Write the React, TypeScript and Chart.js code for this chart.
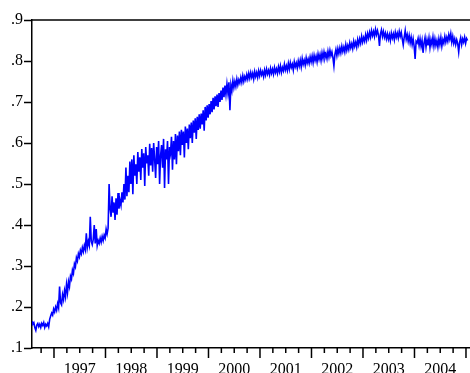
import React, { useEffect, useRef } from 'react';
import { Chart, registerables } from 'chart.js';

Chart.register(...registerables);

// Weekly readings of the series, starting mid-1996
const START_YEAR = 1996.57;
const STEP_YEARS = 1 / 52;
const seriesValues: number[] = [
  0.166, 0.158, 0.162, 0.150, 0.143, 0.156, 0.160, 0.152, 0.158, 0.150,
  0.160, 0.155, 0.162, 0.150, 0.158, 0.154, 0.160, 0.152, 0.170, 0.178,
  0.185, 0.180, 0.195, 0.188, 0.200, 0.192, 0.208, 0.198, 0.250, 0.210,
  0.205, 0.230, 0.218, 0.240, 0.225, 0.255, 0.235, 0.262, 0.250, 0.275,
  0.268, 0.290, 0.282, 0.305, 0.298, 0.320, 0.312, 0.330, 0.322, 0.338,
  0.330, 0.345, 0.335, 0.350, 0.340, 0.380, 0.345, 0.360, 0.350, 0.420,
  0.360, 0.352, 0.365, 0.400, 0.355, 0.390, 0.350, 0.362, 0.355, 0.368,
  0.358, 0.372, 0.362, 0.375, 0.368, 0.390, 0.378, 0.392, 0.500, 0.440,
  0.420, 0.470, 0.430, 0.455, 0.412, 0.465, 0.425, 0.478, 0.440, 0.460,
  0.448, 0.480, 0.455, 0.500, 0.462, 0.540, 0.470, 0.520, 0.480, 0.555,
  0.500, 0.560, 0.475, 0.570, 0.520, 0.548, 0.500, 0.578, 0.530, 0.565,
  0.510, 0.585, 0.540, 0.575, 0.495, 0.590, 0.550, 0.570, 0.520, 0.598,
  0.545, 0.588, 0.530, 0.600, 0.560, 0.515, 0.590, 0.548, 0.605, 0.500,
  0.570, 0.595, 0.540, 0.610, 0.490, 0.585, 0.560, 0.605, 0.500, 0.590,
  0.575, 0.615, 0.535, 0.605, 0.560, 0.622, 0.548, 0.618, 0.580, 0.628,
  0.570, 0.632, 0.595, 0.628, 0.565, 0.640, 0.600, 0.635, 0.585, 0.645,
  0.612, 0.650, 0.600, 0.655, 0.625, 0.660, 0.610, 0.664, 0.632, 0.670,
  0.635, 0.672, 0.645, 0.680, 0.630, 0.688, 0.655, 0.692, 0.662, 0.695,
  0.670, 0.702, 0.675, 0.710, 0.682, 0.714, 0.690, 0.718, 0.688, 0.722,
  0.700, 0.728, 0.705, 0.735, 0.712, 0.740, 0.718, 0.744, 0.722, 0.748,
  0.680, 0.742, 0.728, 0.752, 0.735, 0.750, 0.738, 0.756, 0.742, 0.754,
  0.746, 0.760, 0.748, 0.764, 0.750, 0.762, 0.754, 0.767, 0.756, 0.770,
  0.758, 0.772, 0.760, 0.770, 0.756, 0.774, 0.762, 0.772, 0.760, 0.776,
  0.764, 0.777, 0.766, 0.774, 0.762, 0.778, 0.766, 0.780, 0.768, 0.777,
  0.766, 0.782, 0.770, 0.780, 0.768, 0.784, 0.772, 0.781, 0.770, 0.786,
  0.774, 0.788, 0.772, 0.784, 0.776, 0.792, 0.778, 0.788, 0.777, 0.794,
  0.780, 0.796, 0.784, 0.792, 0.778, 0.798, 0.786, 0.795, 0.783, 0.800,
  0.788, 0.802, 0.786, 0.806, 0.792, 0.802, 0.790, 0.808, 0.795, 0.805,
  0.794, 0.810, 0.798, 0.812, 0.796, 0.814, 0.801, 0.812, 0.798, 0.817,
  0.804, 0.816, 0.801, 0.820, 0.806, 0.822, 0.808, 0.818, 0.806, 0.824,
  0.810, 0.826, 0.813, 0.822, 0.808, 0.788, 0.816, 0.828, 0.813, 0.830,
  0.818, 0.832, 0.820, 0.836, 0.823, 0.834, 0.822, 0.840, 0.826, 0.838,
  0.828, 0.844, 0.832, 0.842, 0.830, 0.848, 0.836, 0.846, 0.834, 0.852,
  0.840, 0.854, 0.843, 0.860, 0.846, 0.857, 0.848, 0.864, 0.851, 0.867,
  0.856, 0.870, 0.858, 0.874, 0.862, 0.872, 0.860, 0.877, 0.864, 0.874,
  0.863, 0.837, 0.866, 0.876, 0.860, 0.872, 0.858, 0.868, 0.854, 0.866,
  0.853, 0.864, 0.850, 0.868, 0.856, 0.866, 0.852, 0.870, 0.858, 0.868,
  0.856, 0.872, 0.860, 0.870, 0.854, 0.839, 0.858, 0.874, 0.853, 0.864,
  0.848, 0.862, 0.844, 0.858, 0.840, 0.854, 0.836, 0.805, 0.848, 0.844,
  0.855, 0.838, 0.854, 0.836, 0.850, 0.820, 0.844, 0.857, 0.834, 0.852,
  0.838, 0.856, 0.833, 0.852, 0.840, 0.858, 0.836, 0.854, 0.838, 0.850,
  0.834, 0.854, 0.840, 0.857, 0.836, 0.852, 0.843, 0.860, 0.846, 0.858,
  0.848, 0.864, 0.853, 0.867, 0.846, 0.860, 0.843, 0.854, 0.840, 0.852,
  0.843, 0.822, 0.846, 0.857, 0.840, 0.854, 0.846, 0.858, 0.843, 0.855, 0.850,
];

const years: number[] = [1997, 1998, 1999, 2000, 2001, 2002, 2003, 2004];
const X_MIN = 1996.573;
const X_MAX = 2005.078;
const Y_MIN = 0.1;
const Y_MAX = 0.9;
const Y_STEP = 0.1;

const FONT = "'Liberation Serif', 'Times New Roman', serif";

const framePlugin = {
  id: 'eviewsFrame',
  afterDraw(chart: any) {
    const { ctx, chartArea: a, scales } = chart;
    const xs = scales.x;
    ctx.save();
    ctx.strokeStyle = '#000';
    ctx.lineWidth = 1.5;
    ctx.beginPath();
    ctx.moveTo(a.left, a.top);
    ctx.lineTo(a.right, a.top);
    ctx.stroke();
    xs.ticks.forEach((t: any) => {
      const px = xs.getPixelForValue(t.value);
      const major = Math.abs(t.value - Math.round(t.value)) < 1e-6;
      ctx.beginPath();
      ctx.moveTo(px, a.bottom);
      ctx.lineTo(px, a.bottom + (major ? 10 : 5));
      ctx.stroke();
    });
    ctx.restore();
  },
};

export default function App() {
  const ref = useRef<HTMLCanvasElement | null>(null);

  useEffect(() => {
    if (!ref.current) return;
    const points = seriesValues.map((v, i) => ({ x: START_YEAR + i * STEP_YEARS, y: v }));
    const quarterTicks: number[] = [];
    const firstYear = years[0] - 1;
    const lastYear = years[years.length - 1] + 1;
    for (let y = firstYear; y <= lastYear; y++) {
      for (let q = 0; q < 4; q++) {
        const v = y + q * 0.25;
        if (v >= X_MIN && v <= X_MAX) quarterTicks.push(v);
      }
    }
    const chart = new Chart(ref.current, {
      type: 'line',
      data: {
        datasets: [
          {
            data: points,
            borderColor: '#0000FF',
            borderWidth: 1.6,
            pointRadius: 0,
            tension: 0,
            fill: false,
          },
        ],
      },
      plugins: [framePlugin],
      options: {
        responsive: false,
        animation: false,
        events: [],
        layout: { padding: { top: 20, right: 0, left: 0, bottom: 0 } },
        plugins: { legend: { display: false }, tooltip: { enabled: false } },
        scales: {
          x: {
            type: 'linear',
            min: X_MIN,
            max: X_MAX,
            afterFit: (s: any) => {
              s.height = 25;
              s.paddingLeft = 0;
              s.paddingRight = 0;
            },
            afterBuildTicks: (s: any) => {
              s.ticks = quarterTicks.map((v) => ({ value: v }));
            },
            grid: { display: false, drawTicks: false },
            border: { display: true, color: '#000', width: 1.5 },
            ticks: {
              autoSkip: false,
              maxRotation: 0,
              minRotation: 0,
              padding: 12,
              color: '#000',
              font: { family: FONT, size: 16 },
              callback: (value: any) => {
                const v = Number(value);
                const yr = Math.floor(v);
                return Math.abs(v - yr - 0.5) < 1e-6 && years.includes(yr) ? String(yr) : '';
              },
            },
          },
          y: {
            min: Y_MIN,
            max: Y_MAX,
            afterFit: (s: any) => { s.width = 32; },
            grid: {
              drawOnChartArea: false,
              drawTicks: true,
              tickLength: 8,
              tickColor: '#000',
              tickWidth: 1.5,
            },
            border: { display: true, color: '#000', width: 1.5 },
            ticks: {
              stepSize: Y_STEP,
              padding: 1,
              color: '#000',
              font: { family: FONT, size: 16 },
              callback: (value: any) => Number(value).toFixed(1).replace(/^0/, ''),
            },
          },
        },
      },
    });
    return () => chart.destroy();
  }, []);

  return (
    <div style={{ position: 'fixed', left: 0, top: 0, width: 470, height: 373, background: '#fff' }}>
      <canvas ref={ref} width={470} height={373} />
    </div>
  );
}
